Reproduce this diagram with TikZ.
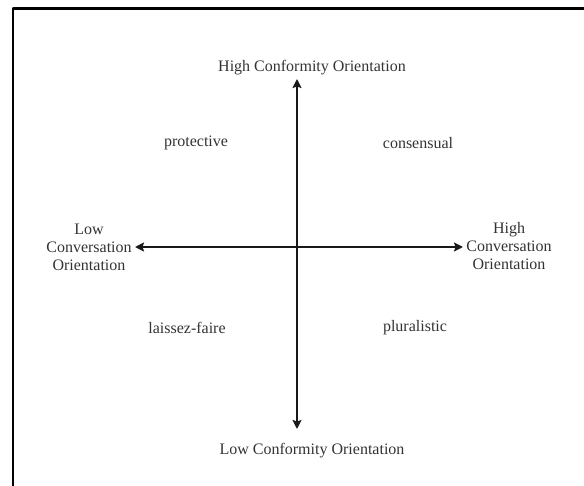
\documentclass[tikz,border=0pt]{standalone}
\usepackage{fontspec}
\setmainfont{Liberation Serif}
\usetikzlibrary{arrows.meta}
\begin{document}
\begin{tikzpicture}[x=1pt, y=-1pt, font=\fontsize{16}{18}\selectfont, line join=round, line cap=round, >={Stealth[length=9pt,width=9pt,inset=1.5pt]}]
	\def \cx{297}
	\def \cy{247}
	\tikzset{lbl/.style={text=black!80, inner sep=0pt, align=center}}
	\useasboundingbox (0,0) rectangle (584,486);
	\draw [line width=2.6pt, line cap=butt] (13,486) -- (13,8.5) -- (584,8.5);
	\coordinate (o) at (\cx,\cy);
	\coordinate (t) at (\cx,79);     % high conformity tip
	\coordinate (b) at (\cx,429);
	\coordinate (l) at (135,\cy);
	\coordinate (r) at (463,\cy);
	\draw [<->, line width=2.3pt, black!90] (b) -- (t);
	\draw [<->, line width=2.3pt, black!90] (l) -- (r);
	\node [lbl] (hc) at (312,68) {High Conformity Orientation};
	\node [lbl] (lc) at (312,451) {Low Conformity Orientation};
	\node [lbl] (lo) at (89,247) {Low\\Conversation\\Orientation};
	\node [lbl] (ho) at (509,246) {High\\Conversation\\Orientation};
	\node [lbl] (pr) at (196,143) {protective};
	\node [lbl] (co) at (418,143) {consensual};
	\node [lbl] (la) at (187,328) {laissez-faire};
	\node [lbl] (pl) at (415,328) {pluralistic};
	%\draw[fill] (o) circle [radius=1pt];
\end{tikzpicture}
\end{document}
